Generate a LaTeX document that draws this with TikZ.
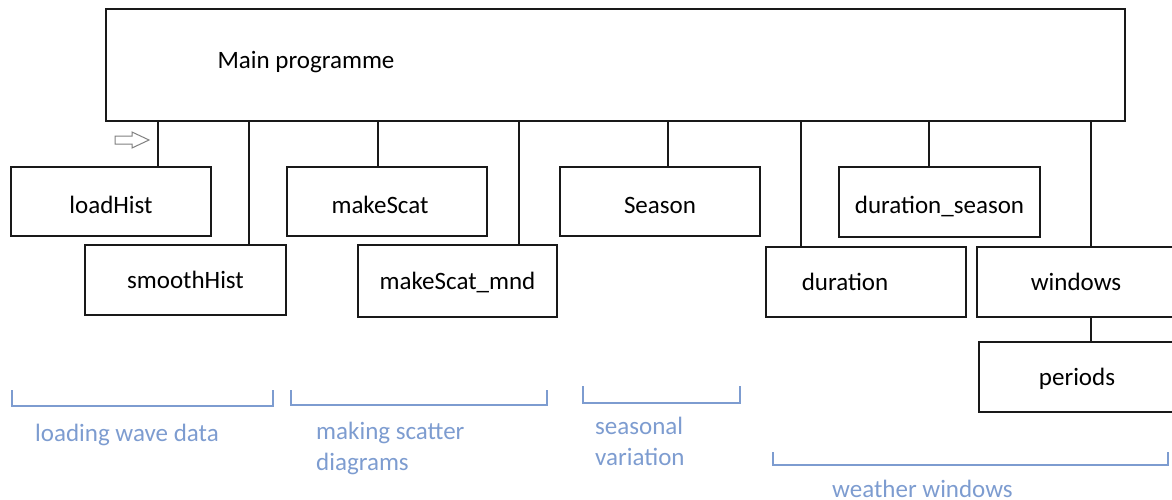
\documentclass[tikz,border=0pt]{standalone}
\usepackage{fontspec}
\setmainfont{Carlito}
\definecolor{boxline}{RGB}{25,25,25}
\definecolor{groupblue}{RGB}{125,156,208}
\definecolor{arrowgray}{RGB}{128,128,128}
\tikzset{
  box/.style={draw=boxline, line width=1.5pt, rectangle, inner sep=0pt, fill=white},
  lbl/.style={inner sep=0pt, font=\fontsize{25}{30}\selectfont},
  upper/.style={text height=23pt, text depth=0pt},
  lower/.style={text height=16pt, text depth=0pt},
  link/.style={draw=boxline, line width=1.5pt},
  bracket/.style={draw=groupblue, line width=1.4pt},
  grouptext/.style={inner sep=0pt, text=groupblue, align=left,
    font=\fontsize{25}{31}\selectfont}
}
\begin{document}
\begin{tikzpicture}[x=1pt, y=-1pt]
\useasboundingbox (0,0) rectangle (1172,499);
\begin{scope}
\clip (0,0) rectangle (1172,499);

% main programme box
\node[box, minimum width=1019pt, minimum height=112pt] (main) at (615.5,65) {};
\node[lbl, anchor=base] (maintext) at (306,68) {Main programme};

% first row of routines
\node[box, lbl, upper, minimum width=200pt, minimum height=69pt] (loadHist) at (111,201.5) {loadHist};
\node[box, minimum width=200pt, minimum height=69pt] (makeScat) at (387,201.5) {};
\node[lbl, anchor=base] (makeScattext) at (380,213) {makeScat};
\node[box, lbl, upper, minimum width=200pt, minimum height=69pt] (Season) at (660,201.5) {Season};
\node[box, lbl, upper, minimum width=201pt, minimum height=70pt] (durseason) at (939.5,202) {duration\_season};

% second row of routines
\node[box, lbl, lower, minimum width=201pt, minimum height=70pt] (smoothHist) at (185.5,280) {smoothHist};
\node[box, lbl, lower, minimum width=199pt, minimum height=72pt] (makeScatmnd) at (457.5,281) {makeScat\_mnd};
\node[box, minimum width=200pt, minimum height=70pt] (duration) at (866,282) {};
\node[lbl, anchor=base] (durationtext) at (845,290) {duration};
\node[box, lbl, lower, minimum width=198pt, minimum height=70pt] (windows) at (1076,282) {windows};

% third row
\node[box, lbl, lower, minimum width=196pt, minimum height=70pt] (periods) at (1077,377) {periods};

% connectors from the main programme
\coordinate (c1) at (158,0);
\coordinate (c2) at (249,0);
\coordinate (c3) at (378,0);
\coordinate (c4) at (519,0);
\coordinate (c5) at (668,0);
\coordinate (c6) at (801,0);
\coordinate (c7) at (929,0);
\coordinate (c8) at (1091,0);
\draw[link] (c1 |- main.south) -- (c1 |- loadHist.north);
\draw[link] (c2 |- main.south) -- (c2 |- smoothHist.north);
\draw[link] (c3 |- main.south) -- (c3 |- makeScat.north);
\draw[link] (c4 |- main.south) -- (c4 |- makeScatmnd.north);
\draw[link] (c5 |- main.south) -- (c5 |- Season.north);
\draw[link] (c6 |- main.south) -- (c6 |- duration.north);
\draw[link] (c7 |- main.south) -- (c7 |- durseason.north);
\draw[link] (c8 |- main.south) -- (c8 |- windows.north);
\draw[link] (c8 |- windows.south) -- (c8 |- periods.north);
\end{scope}

% hollow arrow
\draw[arrowgray, line width=1pt, fill=white, line join=miter]
  (115,136) -- (132,136) -- (132,132) -- (149,140) -- (132,148)
  -- (132,144) -- (115,144) -- cycle;

% group brackets
\draw[bracket] (12,390) -- (12,406) -- (273,406) -- (273,390);
\draw[bracket] (291,390) -- (291,405) -- (547,405) -- (547,390);
\draw[bracket] (583,386) -- (583,403) -- (740,403) -- (740,386);
\draw[bracket] (773,452) -- (773,465) -- (1168,465) -- (1168,452);

% group captions
\node[grouptext, anchor=west] (g1) at (35,435) {loading wave data};
\node[grouptext, anchor=west] (g2) at (316,448.5) {making scatter\\diagrams};
\node[grouptext, anchor=west] (g3) at (595,441.5) {seasonal\\variation};
\node[grouptext, anchor=west] (g4) at (832,489) {weather windows};
\end{tikzpicture}
\end{document}
